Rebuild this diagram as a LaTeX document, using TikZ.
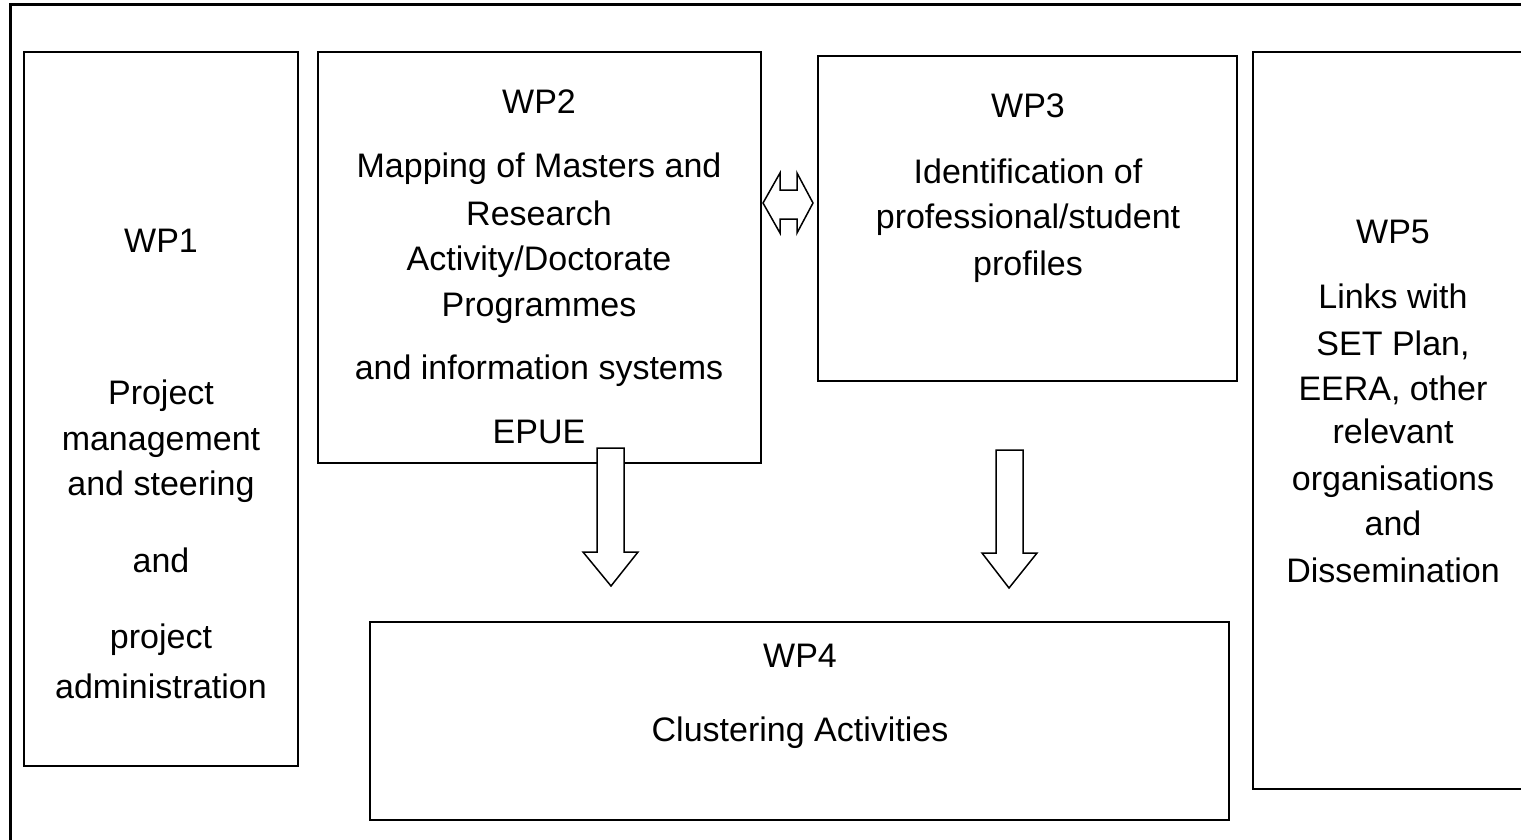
\documentclass[tikz,border=0pt]{standalone}
\usepackage{fontspec}
\setmainfont{Liberation Sans}
\begin{document}
\begin{tikzpicture}[x=1pt,y=-1pt,
  wpbox/.style={draw=black,line width=2pt,fill=white},
  lbl/.style={inner sep=0pt,anchor=base,font=\fontsize{34}{46}\selectfont},
  blockarrow/.style={draw=black,line width=1.5pt,fill=white,line join=miter}]
\useasboundingbox (0,0) rectangle (1521,840);
% outer frame (open at right and bottom)
\draw[line width=3pt] (10,842) -- (10,5) -- (1523,5);
% boxes
\draw[wpbox] (24,52) rectangle (298,766);
\draw[wpbox] (318,52) rectangle (761,463);
\draw[wpbox] (818,56) rectangle (1237,381);
\draw[wpbox] (1253,52) rectangle (1530,789);
\draw[wpbox] (370,622) rectangle (1229,820);
% WP1
\node[lbl] (wp1) at (161,252) {WP1};
\node[lbl] (wp1a) at (161,404) {Project};
\node[lbl] (wp1b) at (161,450) {management};
\node[lbl] (wp1c) at (161,495) {and steering};
\node[lbl] (wp1d) at (161,572) {and};
\node[lbl] (wp1e) at (161,648) {project};
\node[lbl] (wp1f) at (161,698) {administration};
% WP2
\node[lbl] (wp2) at (539,114) {WP2};
\node[lbl] (wp2a) at (539,178) {Mapping of Masters and};
\node[lbl] (wp2b) at (539,225) {Research};
\node[lbl] (wp2c) at (539,270) {Activity/Doctorate};
\node[lbl] (wp2d) at (539,316) {Programmes};
\node[lbl] (wp2e) at (539,379) {and information systems};
\node[lbl] (wp2f) at (539,443) {EPUE};
% WP3
\node[lbl] (wp3) at (1028,118) {WP3};
\node[lbl] (wp3a) at (1028,183) {Identification of};
\node[lbl] (wp3b) at (1028,228) {professional/student};
\node[lbl] (wp3c) at (1028,275) {profiles};
% WP5
\node[lbl] (wp5) at (1393,243) {WP5};
\node[lbl] (wp5a) at (1393,308) {Links with};
\node[lbl] (wp5b) at (1393,355) {SET Plan,};
\node[lbl] (wp5c) at (1393,400) {EERA, other};
\node[lbl] (wp5d) at (1393,443) {relevant};
\node[lbl] (wp5e) at (1393,490) {organisations};
\node[lbl] (wp5f) at (1393,535) {and};
\node[lbl] (wp5g) at (1393,582) {Dissemination};
% WP4
\node[lbl] (wp4) at (800,667) {WP4};
\node[lbl] (wp4a) at (800,741) {Clustering Activities};
% block arrows
\draw[blockarrow] (597,448) -- (624,448) -- (624,552) -- (638,552) -- (611,586) -- (583,552) -- (597,552) -- cycle;
\draw[blockarrow] (996,450) -- (1023,450) -- (1023,553) -- (1037,553) -- (1009,588) -- (982,553) -- (996,553) -- cycle;
\draw[blockarrow] (763,203) -- (780,173) -- (780,190) -- (797,190) -- (797,173) -- (813,203) -- (797,233) -- (797,219) -- (780,219) -- (780,233) -- cycle;
\end{tikzpicture}
\end{document}
